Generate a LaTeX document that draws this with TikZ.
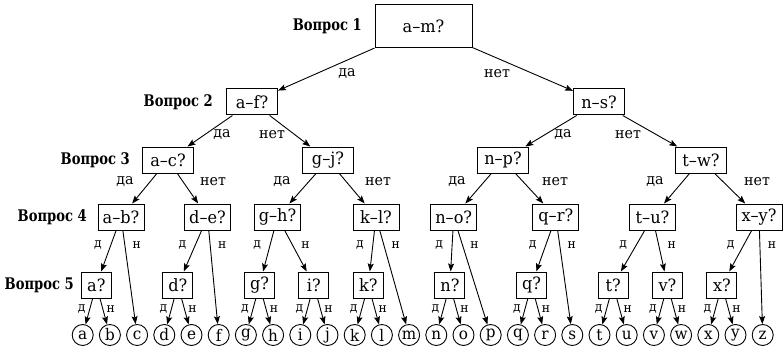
\documentclass[tikz,border=0pt]{standalone}
\usepackage{fontspec}
\setmainfont[FakeStretch=0.95]{DejaVu Serif}
\newfontfamily\labfont[FakeStretch=0.82]{DejaVu Serif}
\usetikzlibrary{arrows.meta,calc}
\newcommand\edgelab[6]{\node[#1] at ($(#2)!#4!(#3)+(#5,0)$) {#6};}
\begin{document}
\begin{tikzpicture}[x=1pt,y=-1pt,
 q/.style={draw,line width=1pt,minimum height=26pt,inner xsep=3pt,inner ysep=0pt,font=\fontsize{17}{19}\selectfont},
 qtop/.style={q,minimum width=97pt,minimum height=43pt},
 qwide/.style={q,minimum width=51pt},
 qmid/.style={q,minimum width=46pt},
 qsmall/.style={q,minimum width=30pt},
 leaf/.style={draw,circle,line width=0.9pt,minimum size=21pt,inner sep=0pt,font=\fontsize{16}{18}\selectfont},
 lev/.style={anchor=east,inner sep=0pt,font=\labfont\fontsize{16}{18}\selectfont\bfseries},
 el/.style={inner sep=0pt,font=\fontsize{15}{17}\selectfont},
 sl/.style={inner sep=0pt,font=\fontsize{13}{15}\selectfont},
 arr/.style={-{Stealth[length=8pt,width=6pt,inset=1.5pt]},line width=0.9pt},
]
\useasboundingbox (0,0) rectangle (784,350);
% level labels
\node[lev] (v1) at (362,26) {Вопрос 1};
\node[lev] (v2) at (213,102) {Вопрос 2};
\node[lev] (v3) at (130,160) {Вопрос 3};
\node[lev] (v4) at (87,217) {Вопрос 4};
\node[lev] (v5) at (74,285) {Вопрос 5};
% questions
\node[qtop] (am) at (423.5,26.5) {a–m?};
\node[qwide] (af) at (252,102) {a–f?};
\node[qwide] (ns) at (599,102) {n–s?};
\node[qwide] (ac) at (168,160) {a–c?};
\node[qwide] (gj) at (328,160) {g–j?};
\node[qwide] (np) at (503,160) {n–p?};
\node[qwide] (tw) at (701,160) {t–w?};
\node[qmid] (ab) at (121,217) {a–b?};
\node[qmid] (de) at (207.5,217) {d–e?};
\node[qmid] (gh) at (277.5,217) {g–h?};
\node[qmid] (kl) at (376,217) {k–l?};
\node[qmid] (no) at (453.7,217) {n–o?};
\node[qmid] (qr) at (555.8,217) {q–r?};
\node[qmid] (tu) at (652.5,217) {t–u?};
\node[qmid] (xy) at (759,217) {x–y?};
\node[qsmall] (aq) at (96.3,285) {a?};
\node[qsmall] (dq) at (177.9,285) {d?};
\node[qsmall] (gq) at (259.5,285) {g?};
\node[qsmall] (iq) at (313.9,285) {i?};
\node[qsmall] (kq) at (368.3,285) {k?};
\node[qsmall] (nq) at (449.9,285) {n?};
\node[qsmall] (qq) at (531.5,285) {q?};
\node[qsmall] (tq) at (613.1,285) {t?};
\node[qsmall] (vq) at (667.5,285) {v?};
\node[qsmall] (xq) at (721.9,285) {x?};
% leaves
\foreach \l [count=\i from 0] in {a,b,c,d,e,f,g,h,i,j,k,l,m,n,o,p,q,r,s,t,u,v,w,x,y,z}
  \node[leaf] (L\l) at ({82.7+27.2*\i},335) {\l};
% edges
\foreach \p/\c in {am/af,am/ns,af/ac,af/gj,ns/np,ns/tw,
  ac/ab,ac/de,gj/gh,gj/kl,np/no,np/qr,tw/tu,tw/xy,
  ab/aq,ab/Lc,de/dq,de/Lf,gh/gq,gh/iq,kl/kq,kl/Lm,no/nq,no/Lp,qr/qq,qr/Ls,tu/tq,tu/vq,xy/xq,xy/Lz,
  aq/La,aq/Lb,dq/Ld,dq/Le,gq/Lg,gq/Lh,iq/Li,iq/Lj,kq/Lk,kq/Ll,nq/Ln,nq/Lo,qq/Lq,qq/Lr,tq/Lt,tq/Lu,vq/Lv,vq/Lw,xq/Lx,xq/Ly}
  \draw[arr] (\p) -- (\c);
% edge labels, levels 1-3
\node[el] (e1) at (347,74) {да};
\node[el] (e2) at (497,74) {нет};
\node[el] (e3) at (222,135) {да};
\node[el] (e4) at (272,135) {нет};
\node[el] (e5) at (563,135) {да};
\node[el] (e6) at (628,135) {нет};
\node[el] (e7) at (125,182) {да};
\node[el] (e8) at (213,182) {нет};
\node[el] (e9) at (282,182) {да};
\node[el] (e10) at (378,182) {нет};
\node[el] (e11) at (457,182) {да};
\node[el] (e12) at (555,182) {нет};
\node[el] (e13) at (655,182) {да};
\node[el] (e14) at (757,182) {нет};
% level 4 labels
\edgelab{sl}{ab}{aq}{0.412}{-13}{д}
\edgelab{sl}{ab}{Lc}{0.237}{12}{н}
\edgelab{sl}{de}{dq}{0.412}{-13}{д}
\edgelab{sl}{de}{Lf}{0.237}{12}{н}
\edgelab{sl}{gh}{gq}{0.412}{-13}{д}
\edgelab{sl}{gh}{iq}{0.412}{13}{н}
\edgelab{sl}{kl}{kq}{0.412}{-13}{д}
\edgelab{sl}{kl}{Lm}{0.237}{12}{н}
\edgelab{sl}{no}{nq}{0.412}{-13}{д}
\edgelab{sl}{no}{Lp}{0.237}{12}{н}
\edgelab{sl}{qr}{qq}{0.412}{-13}{д}
\edgelab{sl}{qr}{Ls}{0.237}{12}{н}
\edgelab{sl}{tu}{tq}{0.412}{-13}{д}
\edgelab{sl}{tu}{vq}{0.412}{13}{н}
\edgelab{sl}{xy}{xq}{0.412}{-13}{д}
\edgelab{sl}{xy}{Lz}{0.237}{12}{н}
% level 5 labels
\foreach \b/\x/\y in {aq/La/Lb,dq/Ld/Le,gq/Lg/Lh,iq/Li/Lj,kq/Lk/Ll,nq/Ln/Lo,qq/Lq/Lr,tq/Lt/Lu,vq/Lv/Lw,xq/Lx/Ly}{
  \edgelab{sl}{\b}{\x}{0.48}{-8}{д}
  \edgelab{sl}{\b}{\y}{0.48}{8}{н}
}
\end{tikzpicture}
\end{document}
